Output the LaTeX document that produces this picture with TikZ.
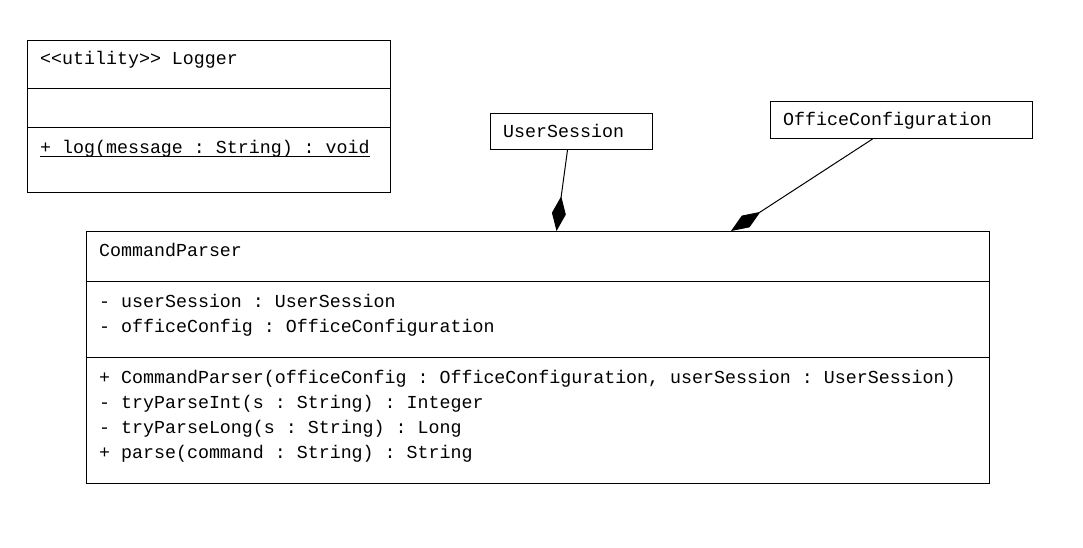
\documentclass[tikz,border=0pt]{standalone}
\usepackage{fontspec}
\setmonofont{Liberation Mono}
\usetikzlibrary{arrows.meta}
\tikzset{
  umlbox/.style={draw=black, line width=1pt, anchor=north west, inner sep=0pt, fill=white},
  umltext/.style={anchor=base west, inner sep=0pt, font=\ttfamily\fontsize{18.3}{22}\selectfont},
  divider/.style={line width=1pt},
  composition/.style={line width=1pt, -{Diamond[length=35pt,width=14pt]}}
}
\begin{document}
\begin{tikzpicture}[x=1pt,y=-1pt]
\useasboundingbox[fill=white] (0,0) rectangle (1083,548);
% Logger
\node[umlbox, minimum width=363pt, minimum height=152pt] (logger) at (27,40) {};
\draw[divider] (logger.west |- 0,89) -- (logger.east |- 0,89);
\draw[divider] (logger.west |- 0,128) -- (logger.east |- 0,128);
\node[umltext] (loggername) at (40,65) {<<utility>> Logger};
\node[umltext] (loggerop) at (40,154) {+ log(message : String) : void};
\draw[line width=1pt] (40,156.5) -- (370,156.5);
% UserSession
\node[umlbox, minimum width=162pt, minimum height=36pt] (us) at (490,113) {};
\node[umltext] (usname) at (503,138) {UserSession};
% OfficeConfiguration
\node[umlbox, minimum width=262pt, minimum height=37pt] (oc) at (770,101) {};
\node[umltext] (ocname) at (783,126) {OfficeConfiguration};
% CommandParser
\node[umlbox, minimum width=903pt, minimum height=252pt] (cp) at (86,231) {};
\draw[divider] (cp.west |- 0,281) -- (cp.east |- 0,281);
\draw[divider] (cp.west |- 0,357) -- (cp.east |- 0,357);
\node[umltext] (cpname) at (99,256) {CommandParser};
\node[umltext] (cpa1) at (99,307) {- userSession : UserSession};
\node[umltext] (cpa2) at (99,332) {- officeConfig : OfficeConfiguration};
\node[umltext] (cpm1) at (99,383) {+ CommandParser(officeConfig : OfficeConfiguration, userSession : UserSession)};
\node[umltext] (cpm2) at (99,408) {- tryParseInt(s : String) : Integer};
\node[umltext] (cpm3) at (99,433) {- tryParseLong(s : String) : Long};
\node[umltext] (cpm4) at (99,458) {+ parse(command : String) : String};
% compositions
\draw[composition] ([xshift=-4pt]us.south) -- ([xshift=18.5pt]cp.north);
\draw[composition] ([xshift=-29pt]oc.south) -- ([xshift=193pt]cp.north);
\end{tikzpicture}
\end{document}
